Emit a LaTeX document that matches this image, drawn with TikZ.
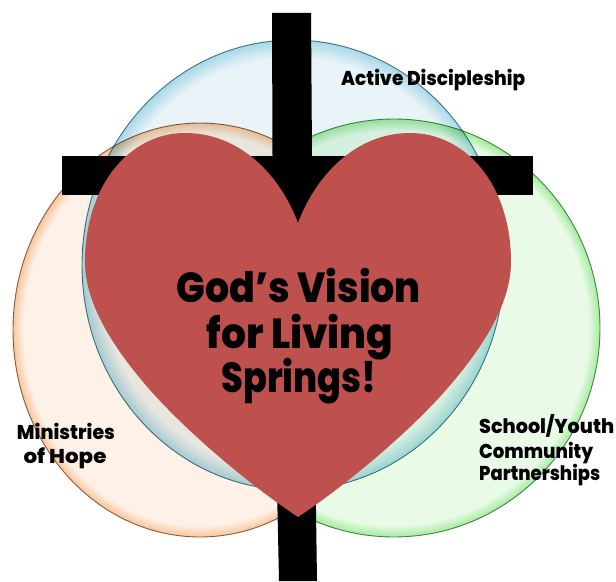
\documentclass[tikz,border=0pt]{standalone}
\usepackage{fontspec}
\setmainfont{Poppins}[BoldFont=* ExtraBold]
\definecolor{blueFill}{HTML}{EAF4F8}
\definecolor{blueGlow}{HTML}{A8D8E8}
\definecolor{blueEdge}{HTML}{4F7F90}
\definecolor{orangeFill}{HTML}{FEF1E7}
\definecolor{orangeGlow}{HTML}{F9C69C}
\definecolor{orangeEdge}{HTML}{8A6A50}
\definecolor{greenFill}{HTML}{E9FAE7}
\definecolor{greenGlow}{HTML}{A4EB9E}
\definecolor{greenEdge}{HTML}{4F8F4F}
\definecolor{heartRed}{HTML}{BE504D}
\pgfdeclareradialshading{glowblue}{\pgfpoint{0bp}{0bp}}{color(0bp)=(blueFill);color(23bp)=(blueFill);color(25bp)=(blueGlow);color(100bp)=(blueGlow)}
\pgfdeclareradialshading{gloworange}{\pgfpoint{0bp}{0bp}}{color(0bp)=(orangeFill);color(23.6bp)=(orangeFill);color(25bp)=(orangeGlow);color(100bp)=(orangeGlow)}
\pgfdeclareradialshading{glowgreen}{\pgfpoint{0bp}{0bp}}{color(0bp)=(greenFill);color(23.6bp)=(greenFill);color(25bp)=(greenGlow);color(100bp)=(greenGlow)}
% width, em size, text
\newcommand{\fitw}[3]{\resizebox{#1bp}{#2bp}{\bfseries\rule{0pt}{1em}#3}}
\tikzset{
  ring/.style={line width=0.9bp,blend mode=multiply},
  barblack/.style={fill=black,draw=none},
  bigtext/.style={inner sep=0pt,anchor=base,text=black},
  smalltext/.style={inner sep=0pt,anchor=base west,text=black},
}
\begin{document}
\begin{tikzpicture}[x=1bp,y=-1bp]
\useasboundingbox (0,0) rectangle (616,582);
\fill[white] (0,0) rectangle (616,582);
% circles
\path[ring,shading=glowblue,draw=blueEdge] (293,265) ellipse [x radius=211,y radius=225];
\path[ring,shading=gloworange,draw=orangeEdge] (200,330) ellipse [x radius=187,y radius=207];
\path[ring,shading=glowgreen,draw=greenEdge] (394,328) ellipse [x radius=206,y radius=209];
% cross
\path[barblack] (272,13) -- (311,13) -- (313,300) -- (317,581) -- (279,581) -- (273,300) -- cycle;
\path[barblack] (62,156) rectangle (533,195);
% heart
\path[fill=heartRed] (298,223)
  .. controls (280,175) and (240,133) .. (185,133)
  .. controls (130,133) and (85,185) .. (85,262)
  .. controls (85,305) and (115,350) .. (150,390)
  .. controls (190,435) and (250,485) .. (298,517)
  .. controls (346,485) and (406,435) .. (446,390)
  .. controls (481,350) and (511,305) .. (511,262)
  .. controls (511,185) and (466,133) .. (410,133)
  .. controls (356,133) and (316,175) .. (298,223) -- cycle;
% texts
\node[bigtext] (v1) at (299,302) {\fitw{244}{42}{God’s Vision}};
\node[bigtext] (v2) at (300,348) {\fitw{187}{42}{for Living}};
\node[bigtext] (v3) at (299,392) {\fitw{155}{42}{Springs!}};
\node[smalltext] (a) at (341,86) {\fitw{184}{20}{Active Discipleship}};
\node[bigtext] (m1) at (66,439) {\fitw{98}{20}{Ministries}};
\node[bigtext] (m2) at (65,463) {\fitw{83}{20}{of Hope}};
\node[smalltext] (s1) at (479,433) {\fitw{135}{20}{School/Youth}};
\node[smalltext] (s2) at (479,458) {\fitw{114}{20}{Community}};
\node[smalltext] (s3) at (479,480) {\fitw{121}{20}{Partnerships}};
\end{tikzpicture}
\end{document}
